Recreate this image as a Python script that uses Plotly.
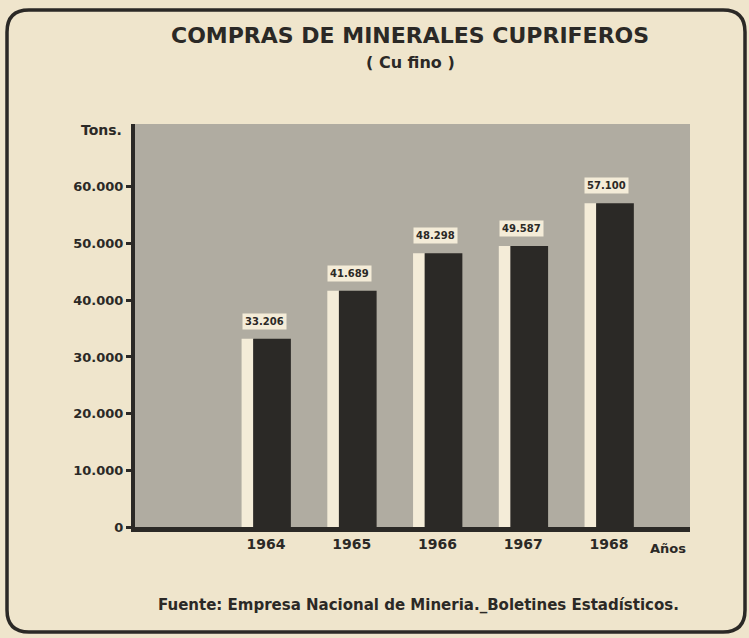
import plotly.graph_objects as go

years = ["1964", "1965", "1966", "1967", "1968"]
values = [33206, 41689, 48298, 49587, 57100]
y_ticks = [0, 10000, 20000, 30000, 40000, 50000, 60000]

title = "COMPRAS DE MINERALES CUPRIFEROS"
subtitle = "( Cu fino )"
source = "Fuente: Empresa Nacional de Mineria._Boletines Estadísticos."

CREAM = "#efe5cc"
DARK = "#2b2926"
FACE = "#f4ecd8"
HALF = "#b0aca1"
FONT = "DejaVu Sans"

def fmt(v):
    return f"{v:,}".replace(",", ".")

fig = go.Figure()
fig.add_trace(go.Bar(x=years, y=values, width=0.14, offset=-0.285,
                     marker=dict(color=FACE, line=dict(width=0)), hoverinfo="skip"))
fig.add_trace(go.Bar(x=years, y=values, width=0.44, offset=-0.15,
                     marker=dict(color=DARK, line=dict(width=0))))

for i, v in enumerate(values):
    fig.add_annotation(x=i, y=v, xref="x", yref="y", xanchor="center", yanchor="bottom",
                       yshift=9, xshift=-2,
                       text=fmt(v), showarrow=False,
                       font=dict(family=FONT, size=10, color=DARK, weight="bold"),
                       bgcolor=FACE, borderpad=2)

# Frame (rounded rectangle)
x0, x1 = (7 - 135) / 555, (745 - 135) / 555
yt, yb = (527 - 10) / 403, (527 - 632) / 403
rx, ry = 22 / 555, 22 / 403
path = (f"M {x0+rx},{yt} L {x1-rx},{yt} Q {x1},{yt} {x1},{yt-ry} "
        f"L {x1},{yb+ry} Q {x1},{yb} {x1-rx},{yb} L {x0+rx},{yb} "
        f"Q {x0},{yb} {x0},{yb+ry} L {x0},{yt-ry} Q {x0},{yt} {x0+rx},{yt} Z")
fig.add_shape(type="path", path=path, xref="paper", yref="paper",
              line=dict(color=DARK, width=3.5), layer="above")

def note(px, py, text, size, xanchor="center"):
    fig.add_annotation(x=(px - 135) / 555, y=(527 - py) / 403, xref="paper", yref="paper",
                       xanchor=xanchor, yanchor="middle", text=text, showarrow=False,
                       font=dict(family=FONT, size=size, color=DARK, weight="bold"))

note(410, 35, title, 22)
note(410, 62, subtitle, 16)
note(418, 605, source, 15)
note(124, 130, "Tons.", 14, xanchor="right")
note(668, 548, "Años", 13)

fig.update_layout(
    width=749, height=638,
    margin=dict(l=135, r=59, t=124, b=111),
    paper_bgcolor=CREAM, plot_bgcolor=HALF,
    separators=",.",
    barmode="overlay",
    showlegend=False,
    font=dict(family=FONT, color=DARK),
    xaxis=dict(type="category", range=[-1.528, 4.945], showgrid=False,
               showline=True, linecolor=DARK, linewidth=5, ticks="",
               tickfont=dict(family=FONT, size=14, color=DARK, weight="bold")),
    yaxis=dict(range=[0, 71100], tickvals=y_ticks, tickformat=",d", showgrid=False,
               zeroline=False, showline=True, linecolor=DARK, linewidth=4,
               ticks="outside", ticklen=5, tickwidth=3, tickcolor=DARK,
               tickfont=dict(family=FONT, size=13, color=DARK, weight="bold")),
)

fig.write_html("out.html", config={"displayModeBar": False},
               post_script="document.body.style.margin='0';")
